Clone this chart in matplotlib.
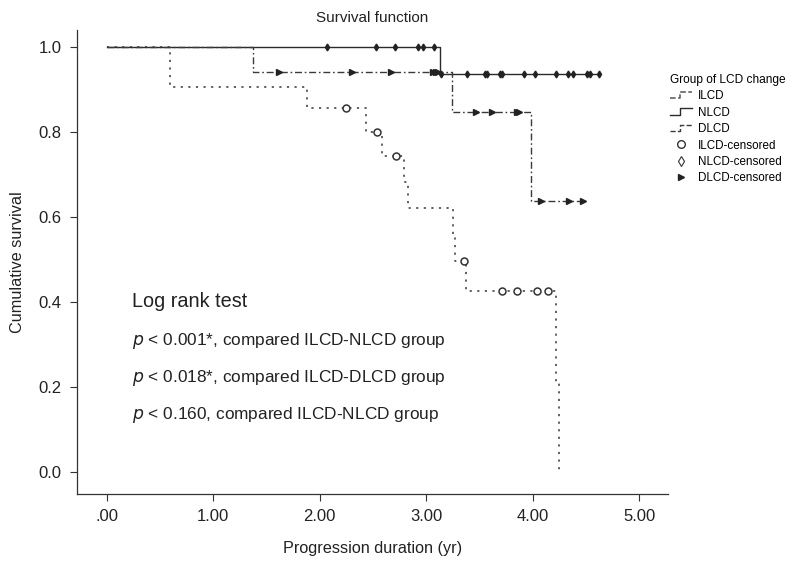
import numpy as np
import matplotlib
matplotlib.use("Agg")
import matplotlib.pyplot as plt
from matplotlib.lines import Line2D
from matplotlib.legend_handler import HandlerBase

plt.rcParams['font.family'] = ['Liberation Sans', 'DejaVu Sans']

# Kaplan-Meier steps (time in yr, survival level after the step)
ilcd_t = [0.0, 0.59, 1.88, 2.43, 2.58, 2.79, 2.83, 3.25, 3.27, 3.37, 4.22, 4.25]
ilcd_s = [1.0, 0.905, 0.857, 0.800, 0.744, 0.683, 0.620, 0.558, 0.496, 0.425, 0.212, 0.0]
ilcd_end = 4.25
ilcd_cens = [2.25, 2.54, 2.72, 3.35, 3.71, 3.85, 4.04, 4.14]

nlcd_t = [0.0, 3.13]
nlcd_s = [1.0, 0.936]
nlcd_end = 4.62
nlcd_cens = [2.07, 2.53, 2.71, 2.92, 2.97, 3.07, 3.14, 3.38, 3.55, 3.57,
             3.69, 3.71, 3.92, 4.02, 4.22, 4.33, 4.38, 4.51, 4.54, 4.62]

dlcd_t = [0.0, 1.37, 3.24, 3.98]
dlcd_s = [1.0, 0.941, 0.847, 0.637]
dlcd_end = 4.49
dlcd_cens = [1.62, 2.30, 2.67, 3.06, 3.09, 3.11, 3.47, 3.62, 3.85, 3.87, 4.08, 4.34, 4.47]

xticks = [0, 1, 2, 3, 4, 5]
xticklabels = ['.00', '1.00', '2.00', '3.00', '4.00', '5.00']
yticks = [0.0, 0.2, 0.4, 0.6, 0.8, 1.0]

test_lines = [
    ('0.001*', 'ILCD-NLCD'),
    ('0.018*', 'ILCD-DLCD'),
    ('0.160', 'ILCD-NLCD'),
]

ILCD_LS = (0, (1.2, 3.0))
NLCD_LS = '-'
DLCD_LS = (0, (5, 2, 1.2, 2))


def level_at(times, levels, x):
    # survival level right at time x (step function, post)
    idx = np.searchsorted(times, x, side='right') - 1
    return np.asarray(levels)[idx]


class StepHandler(HandlerBase):
    def create_artists(self, legend, orig_handle, xdescent, ydescent,
                       width, height, fontsize, trans):
        xs = np.array([0, 0.45, 0.45, 1.0]) * width - xdescent
        ys = np.array([0.1, 0.1, 0.9, 0.9]) * height - ydescent
        ln = Line2D(xs, ys, color=orig_handle.get_color(),
                    linestyle=orig_handle.get_linestyle(),
                    linewidth=orig_handle.get_linewidth())
        ln.set_transform(trans)
        return [ln]


fig = plt.figure(figsize=(7.95, 5.76), dpi=100)
ax = fig.add_axes([77 / 795, 1 - 494 / 576, (668 - 77) / 795, (494 - 30) / 576])

groups = [
    (ilcd_t, ilcd_s, ilcd_end, '#555555', ILCD_LS, 1.3),
    (nlcd_t, nlcd_s, nlcd_end, '#2a2a2a', NLCD_LS, 1.0),
    (dlcd_t, dlcd_s, dlcd_end, '#3a3a3a', DLCD_LS, 1.0),
]
for t, s, end, col, ls, lw in groups:
    ax.step(list(t) + [end], list(s) + [s[-1]], where='post',
            color=col, linestyle=ls, linewidth=lw)

# censored marks
ax.plot(ilcd_cens, level_at(ilcd_t, ilcd_s, ilcd_cens), linestyle='none',
        marker='o', markersize=5, markerfacecolor='white',
        markeredgecolor='#333333', markeredgewidth=1.1)
ax.plot(nlcd_cens, level_at(nlcd_t, nlcd_s, nlcd_cens), linestyle='none',
        marker='d', markersize=3.5, color='#222222')
ax.plot(dlcd_cens, level_at(dlcd_t, dlcd_s, dlcd_cens), linestyle='none',
        marker='>', markersize=4, color='#222222')

ax.set_xlim(-0.28, 5.27)
ax.set_ylim(-0.052, 1.04)
ax.set_xticks(xticks)
ax.set_xticklabels(xticklabels)
ax.set_yticks(yticks)
ax.set_yticklabels([f'{v:.1f}' for v in yticks])
ax.tick_params(labelsize=12, length=5, width=0.8, color='#333333',
               labelcolor='#222222', pad=6)
for side in ['top', 'right']:
    ax.spines[side].set_visible(False)
for side in ['left', 'bottom']:
    ax.spines[side].set_color('#333333')
    ax.spines[side].set_linewidth(0.9)

ax.set_xlabel('Progression duration (yr)', fontsize=11.7, color='#222222', labelpad=12)
ax.set_ylabel('Cumulative survival', fontsize=11.7, color='#222222', labelpad=10)
fig.text(372 / 795, 1 - 18 / 576, 'Survival function', ha='center', va='center',
         fontsize=11, color='#222222')

# log rank annotation
ax.text(0.24, 0.40, 'Log rank test', fontsize=14.3, va='center', color='#222222')
for i, (pv, pair) in enumerate(test_lines):
    ax.text(0.24, 0.308 - i * 0.087,
            r'$\it{p}$' + f' < {pv}, compared {pair} group',
            fontsize=12.4, va='center', color='#222222')

# legend
h_ilcd = Line2D([], [], color='#555555', linestyle=ILCD_LS, linewidth=1.1)
h_nlcd = Line2D([], [], color='#2a2a2a', linestyle=NLCD_LS, linewidth=1.0)
h_dlcd = Line2D([], [], color='#3a3a3a', linestyle=DLCD_LS, linewidth=1.0)
h_ic = Line2D([], [], linestyle='none', marker='o', markersize=5.5,
              markerfacecolor='white', markeredgecolor='#333333')
h_nc = Line2D([], [], linestyle='none', marker='d', markersize=5,
              markerfacecolor='white', markeredgecolor='#333333', markeredgewidth=0.8)
h_dc = Line2D([], [], linestyle='none', marker='>', markersize=5, color='#222222')
leg = fig.legend([h_ilcd, h_nlcd, h_dlcd, h_ic, h_nc, h_dc],
                 ['ILCD', 'NLCD', 'DLCD', 'ILCD-censored', 'NLCD-censored', 'DLCD-censored'],
                 loc='upper left', bbox_to_anchor=(664 / 795, 1 - 68 / 576),
                 frameon=False, fontsize=8.4, title='Group of LCD change',
                 title_fontsize=8.6, alignment='left', borderpad=0,
                 handlelength=1.9, handletextpad=0.5, labelspacing=0.38,
                 handler_map={h_ilcd: StepHandler(), h_nlcd: StepHandler(),
                              h_dlcd: StepHandler()})

fig.savefig('out.png', dpi=100)
